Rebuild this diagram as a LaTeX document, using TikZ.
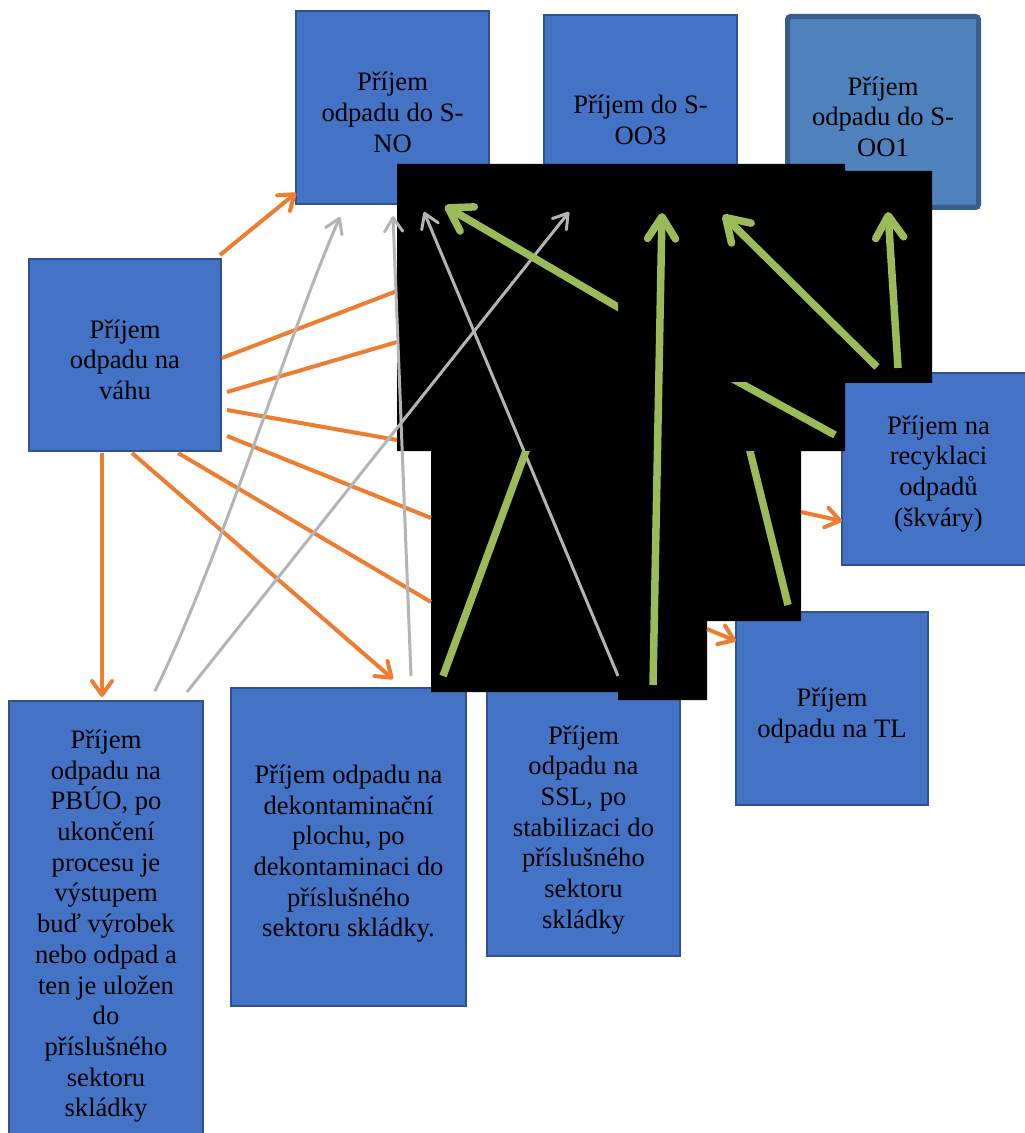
\documentclass[tikz,border=0pt]{standalone}
\usepackage{fontspec}
\setmainfont{Liberation Serif}
\usetikzlibrary{arrows.meta}
\definecolor{boxfill}{HTML}{4472C4}
\definecolor{boxline}{HTML}{2F528F}
\definecolor{boxfillB}{HTML}{4F81BD}
\definecolor{boxlineB}{HTML}{385D8A}
\definecolor{orangeC}{HTML}{ED7D31}
\definecolor{grayC}{HTML}{B4B4B4}
\definecolor{greenC}{HTML}{9BBB59}
\newcommand\txtpush{\rule{0pt}{14pt}}
\begin{document}
\begin{tikzpicture}[x=0.5pt,y=-0.5pt,
  box/.style={draw=boxline, line width=1pt, fill=boxfill, text=black, align=center,
    inner sep=0pt, font=\fontsize{13.3}{15.35}\selectfont},
  boxB/.style={box, draw=boxlineB, fill=boxfillB, line width=2.5pt, rounded corners=1.5pt},
  oarr/.style={draw=orangeC, line width=2pt, -{Straight Barb[length=7pt,width=10pt,round]}},
  oline/.style={draw=orangeC, line width=2pt},
  garr/.style={draw=grayC, line width=1.5pt, -{Straight Barb[length=7pt,width=9pt,round]}},
  gline/.style={draw=grayC, line width=1.5pt},
  grarr/.style={draw=greenC, line width=3.75pt, -{Straight Barb[length=11pt,width=14pt,round]}},
  grline/.style={draw=greenC, line width=3.75pt},
  blackout/.style={fill=black}
]
\useasboundingbox (0,0) rectangle (1024,1133);
\fill[white] (0,0) rectangle (1024,1133);

% boxes
\node[box, minimum width=96.5pt, minimum height=96.5pt] (sno) at (392.5,107.5) {\txtpush Příjem\\odpadu do S-\\NO};
\node[box, minimum width=96.5pt, minimum height=100pt] (soo3) at (640.5,115) {\txtpush Příjem do S-\\OO3};
\node[boxB, minimum width=95.5pt, minimum height=95.5pt] (soo1) at (883,112) {\txtpush Příjem\\odpadu do S-\\OO1};
\node[box, minimum width=96pt, minimum height=96pt] (vaha) at (125,355) {\txtpush Příjem\\odpadu na\\váhu};
\node[box, minimum width=96.5pt, minimum height=96pt] (rec) at (938.5,469) {\txtpush Příjem na\\recyklaci\\odpadů\\(škváry)};
\node[box, minimum width=96pt, minimum height=96.5pt] (tl) at (832,708.5) {\rule{0pt}{16pt}Příjem\\odpadu na TL};
\node[box, minimum width=97pt, minimum height=220.5pt] (pbuo) at (106,921.5) {\txtpush Příjem\\odpadu na\\PBÚO, po\\ukončení\\procesu je\\výstupem\\buď výrobek\\nebo odpad a\\ten je uložen\\do\\příslušného\\sektoru\\skládky};
\node[box, minimum width=117.5pt, minimum height=159pt] (dek) at (348.5,847) {\rule{0pt}{16pt}Příjem odpadu na\\dekontaminační\\plochu, po\\dekontaminaci do\\příslušného\\sektoru skládky.};
\node[box, minimum width=96.5pt, minimum height=133pt] (ssl) at (583.5,823) {\rule{0pt}{16pt}Příjem\\odpadu na\\SSL, po\\stabilizaci do\\příslušného\\sektoru\\skládky};

% black cover
\path[blackout] (397,164) -- (845,164) -- (845,171) -- (932,171) -- (932,383) -- (845,383)
  -- (845,451) -- (801,451) -- (801,621) -- (707,621) -- (707,700) -- (618,700) -- (618,692)
  -- (431,692) -- (431,451) -- (397,451) -- cycle;

% coordinates
\coordinate (o1a) at (220,255);  \coordinate (o1b) at (296,193);
\coordinate (o2a) at (222,358);  \coordinate (o2b) at (397,291);
\coordinate (o3a) at (227,392);  \coordinate (o3b) at (397,342);
\coordinate (o4a) at (227,410);  \coordinate (o4b) at (397,440);
\coordinate (o5a) at (227,436);  \coordinate (o5b) at (431,518);
\coordinate (o6a) at (178,453);  \coordinate (o6b) at (431,602);
\coordinate (o7a) at (132,453);  \coordinate (o7b) at (393,679);
\coordinate (o8a) at (102,453);  \coordinate (o8b) at (102,697);
\coordinate (o9a) at (801,512);  \coordinate (o9b) at (842,521);
\coordinate (o10a) at (707,629); \coordinate (o10b) at (736,641);

\coordinate (g1a) at (155,691);  \coordinate (g1b) at (340,217);
\coordinate (g2a) at (187,692);  \coordinate (g2b) at (569,212);
\coordinate (g3a) at (411,676);  \coordinate (g3b) at (393,216);
\coordinate (g4a) at (618,676);  \coordinate (g4b) at (424,212);

\coordinate (gr1a) at (640,320); \coordinate (gr1b) at (445,206);
\coordinate (gr2a) at (653,685); \coordinate (gr2b) at (662,213);
\coordinate (gr3a) at (877,367); \coordinate (gr3b) at (723,215);
\coordinate (gr4a) at (898,368); \coordinate (gr4b) at (888,212);
\coordinate (gr5a) at (722,373); \coordinate (gr5b) at (835,435);
\coordinate (gr6a) at (745,431); \coordinate (gr6b) at (788,605);
\coordinate (gr7a) at (534,429); \coordinate (gr7b) at (443,676);

% orange
\draw[oarr] (o1a) -- (o1b);
\draw[oline] (o2a) -- (o2b);
\draw[oline] (o3a) -- (o3b);
\draw[oline] (o4a) -- (o4b);
\draw[oline] (o5a) -- (o5b);
\draw[oline] (o6a) -- (o6b);
\draw[oarr] (o7a) -- (o7b);
\draw[oarr] (o8a) -- (o8b);
\draw[oarr] (o9a) -- (o9b);
\draw[oarr] (o10a) -- (o10b);

% gray
\draw[garr] (g1a) .. controls (220,560) and (290,330) .. (g1b);
\draw[garr] (g2a) -- (g2b);
\draw[garr] (g3a) -- (g3b);
\draw[garr] (g4a) -- (g4b);

% green
\begin{scope}
  \clip (0,0) rectangle (618,1133);
  \draw[grarr] (gr1a) -- (gr1b);
\end{scope}
\draw[grarr] (gr2a) -- (gr2b);
\draw[grarr] (gr3a) -- (gr3b);
\draw[grarr] (gr4a) -- (gr4b);
\begin{scope}
  \clip (0,383) rectangle (1024,1133);
  \draw[grline] (gr5a) -- (gr5b);
\end{scope}
\begin{scope}
  \clip (0,451) rectangle (1024,1133);
  \draw[grline] (gr6a) -- (gr6b);
  \draw[grline] (gr7a) -- (gr7b);
\end{scope}
\end{tikzpicture}
\end{document}
